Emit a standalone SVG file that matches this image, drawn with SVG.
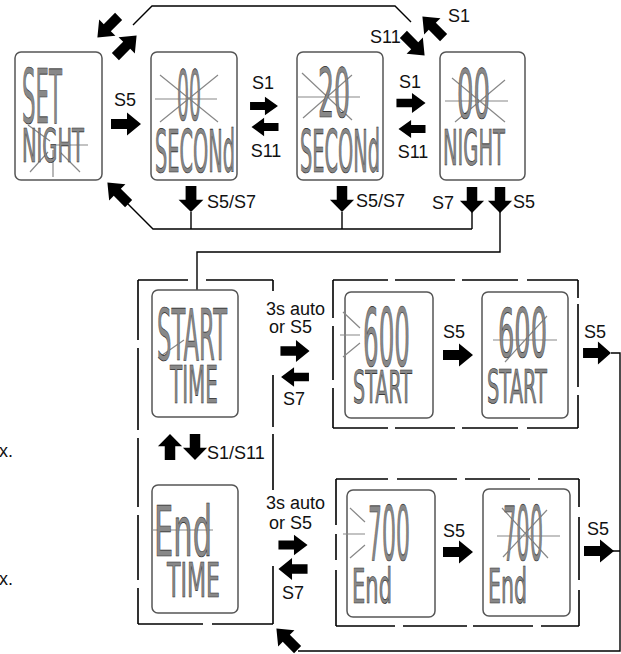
<svg xmlns="http://www.w3.org/2000/svg" width="621" height="654" viewBox="0 0 621 654">
<style>
.scr{fill:#fff;stroke:#555;stroke-width:1.5}
.lcd{font-family:"DejaVu Sans",sans-serif;fill:#888;stroke:#222;stroke-width:0.7}
.ray{stroke:#888;stroke-width:1.2;fill:none}
.lbl{font-family:"Liberation Sans",Arial,sans-serif;font-size:18px;fill:#111}
.ln{fill:none;stroke:#000;stroke-width:1.4}
.dash{fill:none;stroke:#000;stroke-width:1.6}
.ba{fill:#000}
</style>
<defs>
<path id="arr" d="M-15,-5 H1 V-11.5 L15,0 L1,11.5 V5 H-15 Z"/>
</defs>
<rect width="621" height="654" fill="#fff"/>

<!-- cropped margin text -->
<text class="lbl" x="-1" y="457" fill="#444">x.</text>
<text class="lbl" x="-1" y="585" fill="#444">x.</text>

<!-- dashed group boxes -->
<g id="groups">
<path class="dash" d="M138,280 H188 M206,280 H273 M273,280 V291 M273,375 V427 M273,434 V490 M273,566 V624 M138,624 H203 M212,624 H273 M138,280 V340 M138,348 V430 M138,438 V507 M138,515 V580 M138,588 V624"/>
<path class="dash" d="M333,280 H388 M395,280 H455 M462,280 H518 M527,280 H578 M333,428 H388 M395,428 H455 M462,428 H518 M527,428 H578 M333,280 V318 M333,326 V380 M333,388 V428 M578,280 V298 M578,304 V387 M578,395 V428"/>
<path class="dash" d="M336,479 H388 M397,479 H457 M465,479 H530 M538,479 H579 M336,626 H395 M403,626 H467 M473,626 H533 M541,626 H579 M336,479 V525 M336,534 V560 M336,570 V626 M579,479 V507 M579,517 V580 M579,590 V626"/>
</g>

<!-- connectors -->
<g id="connectors">
<path class="ln" d="M133,25 L152,6 H395 L411,22"/>
<path class="ln" d="M127,203 L153,229 H472 M191,212 V229 M342,212 V229 M472,212 V229"/>
<path class="ln" d="M500,212 V252 H197 V290"/>
<path class="ln" d="M611,353 H620 V651 H298 M612,551 H620"/>
<g class="ba">
<use href="#arr" transform="translate(126,124)"/>
<use href="#arr" transform="translate(264,106) scale(0.93,0.8)"/>
<use href="#arr" transform="translate(265,127) rotate(180) scale(0.9,0.8)"/>
<use href="#arr" transform="translate(411,103) scale(0.97,0.87)"/>
<use href="#arr" transform="translate(412,129) rotate(180) scale(0.9,0.78)"/>
<use href="#arr" transform="translate(191,199) rotate(90) scale(0.87,1.08)"/>
<use href="#arr" transform="translate(342,199) rotate(90) scale(0.87,1.05)"/>
<use href="#arr" transform="translate(472,200) rotate(90) scale(0.87,1.05)"/>
<use href="#arr" transform="translate(500,200) rotate(90) scale(0.87,1.05)"/>
<use href="#arr" transform="translate(108,27) rotate(135)"/>
<use href="#arr" transform="translate(126,46) rotate(-45)"/>
<use href="#arr" transform="translate(433,27) rotate(225)"/>
<use href="#arr" transform="translate(414,45) rotate(45)"/>
<use href="#arr" transform="translate(118,193) rotate(225)"/>
<use href="#arr" transform="translate(295,351) scale(0.97,0.95)"/>
<use href="#arr" transform="translate(295,377) rotate(180) scale(0.93,0.85)"/>
<use href="#arr" transform="translate(458,355)"/>
<use href="#arr" transform="translate(597,353) scale(0.93,1)"/>
<use href="#arr" transform="translate(170,447) rotate(-90) scale(0.87,1.05)"/>
<use href="#arr" transform="translate(195,447) rotate(90) scale(0.87,1.05)"/>
<use href="#arr" transform="translate(293,545) scale(0.97,0.9)"/>
<use href="#arr" transform="translate(293,569) rotate(180) scale(0.97,0.95)"/>
<use href="#arr" transform="translate(458,552)"/>
<use href="#arr" transform="translate(599,551)"/>
<use href="#arr" transform="translate(287,639) rotate(225)"/>
</g>
<text class="lbl" x="125" y="106" text-anchor="middle">S5</text>
<text class="lbl" x="263" y="89" text-anchor="middle">S1</text>
<text class="lbl" x="266" y="157" text-anchor="middle">S11</text>
<text class="lbl" x="410" y="88" text-anchor="middle">S1</text>
<text class="lbl" x="413" y="158" text-anchor="middle">S11</text>
<text class="lbl" x="448" y="22">S1</text>
<text class="lbl" x="370" y="43">S11</text>
<text class="lbl" x="207" y="208">S5/S7</text>
<text class="lbl" x="356" y="207">S5/S7</text>
<text class="lbl" x="432" y="209">S7</text>
<text class="lbl" x="513" y="208">S5</text>
<text class="lbl" x="266" y="315">3s auto</text>
<text class="lbl" x="269" y="333">or S5</text>
<text class="lbl" x="283" y="405">S7</text>
<text class="lbl" x="443" y="338">S5</text>
<text class="lbl" x="584" y="338">S5</text>
<text class="lbl" x="207" y="459">S1/S11</text>
<text class="lbl" x="266" y="509">3s auto</text>
<text class="lbl" x="269" y="529">or S5</text>
<text class="lbl" x="282" y="599">S7</text>
<text class="lbl" x="443" y="537">S5</text>
<text class="lbl" x="587" y="535">S5</text>
</g>

<!-- nodes -->
<g id="n-set-night">
<rect class="scr" x="15" y="52" width="87" height="128" rx="6"/>
<path class="ray" d="M28,125 L50,141 M53,145 H88 M53,150 V177 M30,172 L48,152 M60,152 L80,172"/>
<text class="lcd" x="22" y="123" font-size="75" textLength="40" lengthAdjust="spacingAndGlyphs">SET</text>
<text class="lcd" x="22" y="162" font-size="46" textLength="62" lengthAdjust="spacingAndGlyphs">NIGHT</text>
</g>

<g id="n-00-second">
<rect class="scr" x="151" y="52" width="86" height="128" rx="6"/>
<path class="ray" d="M155,99 H217 M160,75 L218,122 M218,75 L160,122"/>
<text class="lcd" x="177" y="120" font-size="70" textLength="24" lengthAdjust="spacingAndGlyphs">00</text>
<text class="lcd" x="155" y="172" font-size="58" textLength="80" lengthAdjust="spacingAndGlyphs">SECONd</text>
</g>

<g id="n-20-second">
<rect class="scr" x="297" y="52" width="86" height="128" rx="6"/>
<path class="ray" d="M297,97 H360 M302,73 L352,120 M352,75 L303,118"/>
<text class="lcd" x="318" y="117" font-size="68" textLength="32" lengthAdjust="spacingAndGlyphs">20</text>
<text class="lcd" x="300" y="172" font-size="58" textLength="80" lengthAdjust="spacingAndGlyphs">SECONd</text>
</g>

<g id="n-00-night">
<rect class="scr" x="440" y="52" width="85" height="128" rx="6"/>
<path class="ray" d="M445,101 H508 M452,78 L505,122 M505,80 L455,122"/>
<text class="lcd" x="457" y="118" font-size="68" textLength="33" lengthAdjust="spacingAndGlyphs">00</text>
<text class="lcd" x="443" y="165" font-size="50" textLength="62" lengthAdjust="spacingAndGlyphs">NIGHT</text>
</g>

<g id="n-start-time">
<rect class="scr" x="152" y="290" width="86" height="127" rx="6"/>
<path class="ray" d="M158,358 L184,340"/>
<text class="lcd" x="157" y="360" font-size="72" textLength="70" lengthAdjust="spacingAndGlyphs">START</text>
<text class="lcd" x="170" y="403" font-size="52" textLength="48" lengthAdjust="spacingAndGlyphs">TIME</text>
</g>

<g id="n-600-start-a">
<rect class="scr" x="345" y="292" width="88" height="126" rx="6"/>
<path class="ray" d="M343,312 L360,328 M340,335 H360 M343,357 L360,343"/>
<text class="lcd" x="363" y="366" font-size="80" textLength="47" lengthAdjust="spacingAndGlyphs">600</text>
<text class="lcd" x="353" y="403" font-size="45" textLength="59" lengthAdjust="spacingAndGlyphs">START</text>
</g>

<g id="n-600-start-b">
<rect class="scr" x="482" y="292" width="86" height="126" rx="6"/>
<path class="ray" d="M493,340 H557 M505,362 L547,316"/>
<text class="lcd" x="498" y="357" font-size="68" textLength="49" lengthAdjust="spacingAndGlyphs">600</text>
<text class="lcd" x="487" y="403" font-size="47" textLength="60" lengthAdjust="spacingAndGlyphs">START</text>
</g>

<g id="n-end-time">
<rect class="scr" x="152" y="485" width="86" height="128" rx="6"/>
<path class="ray" d="M152,530 H213"/>
<text class="lcd" x="154" y="556" font-size="70" textLength="58" lengthAdjust="spacingAndGlyphs">End</text>
<text class="lcd" x="167" y="597" font-size="48" textLength="53" lengthAdjust="spacingAndGlyphs">TIME</text>
</g>

<g id="n-700-end-a">
<rect class="scr" x="347" y="490" width="88" height="127" rx="6"/>
<path class="ray" d="M350,508 L365,522 M343,534 H365 M350,558 L365,545"/>
<text class="lcd" x="368" y="560" font-size="74" textLength="42" lengthAdjust="spacingAndGlyphs">700</text>
<text class="lcd" x="352" y="603" font-size="48" textLength="40" lengthAdjust="spacingAndGlyphs">End</text>
</g>

<g id="n-700-end-b">
<rect class="scr" x="483" y="489" width="87" height="127" rx="6"/>
<path class="ray" d="M497,536 H560 M502,508 L548,558 M547,510 L503,557"/>
<text class="lcd" x="503" y="560" font-size="74" textLength="40" lengthAdjust="spacingAndGlyphs">700</text>
<text class="lcd" x="488" y="603" font-size="48" textLength="39" lengthAdjust="spacingAndGlyphs">End</text>
</g>
</svg>
